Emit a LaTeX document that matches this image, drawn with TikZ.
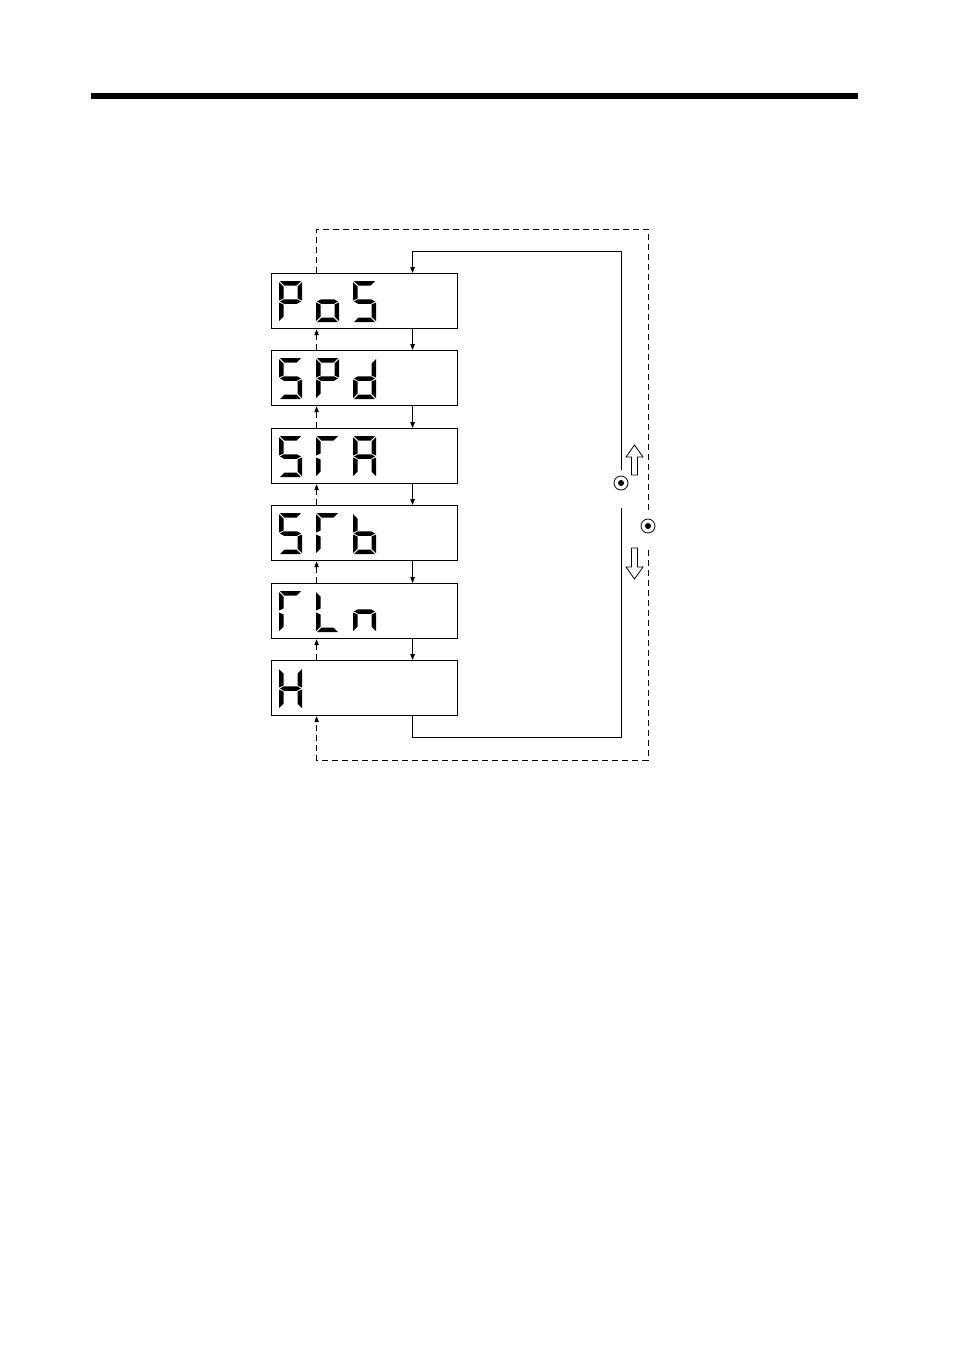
\documentclass[tikz,border=0pt]{standalone}
\usetikzlibrary{arrows.meta}

% segments of one display digit (23 x 41, y downwards)
\newcommand{\sega}{(1,0) -- (22,0) -- (17.5,4.5) -- (5.5,4.5) -- cycle}
\newcommand{\segb}{(23,1) -- (18.5,5.5) -- (18.5,17.5) -- (23,19.5) -- cycle}
\newcommand{\segc}{(23,21.5) -- (18.5,23.5) -- (18.5,35.5) -- (23,40) -- cycle}
\newcommand{\segd}{(1,41) -- (22,41) -- (17.5,36.5) -- (5.5,36.5) -- cycle}
\newcommand{\sege}{(0,21.5) -- (4.5,23.5) -- (4.5,35.5) -- (0,40) -- cycle}
\newcommand{\segf}{(0,1) -- (4.5,5.5) -- (4.5,17.5) -- (0,19.5) -- cycle}
\newcommand{\segg}{(1,20.5) -- (5,18.25) -- (18,18.25) -- (22,20.5) -- (18,22.75) -- (5,22.75) -- cycle}
\newcommand{\segdigit}[2]{%
  \foreach \s in {#2} {\edef\segpath{\csname seg\s\endcsname}\fill[shift={#1}] \segpath;}}

\begin{document}
\begin{tikzpicture}[x=1pt,y=-1pt,
  disp/.style={draw, line width=1.2pt, minimum width=186pt, minimum height=55pt, inner sep=0pt, anchor=north west},
  btn/.style={draw, circle, line width=0.8pt, minimum size=14pt, inner sep=0pt,
    path picture={\fill (path picture bounding box.center) circle (3pt);}},
  loopline/.style={line width=0.9pt},
  fwd/.style={line width=0.9pt, -{Triangle[length=6pt,width=4.5pt]}},
  bwd/.style={line width=0.9pt, dash pattern=on 6pt off 4pt, -{Triangle[length=6pt,width=4.5pt]}},
  hollow/.style={draw, line width=0.8pt, fill=white}]

  \useasboundingbox (0,0) rectangle (954,1350);

  % rule at top of page
  \fill (91,93) rectangle (858,99);

  % ========== Pos ==========
  \begin{scope}[shift={(271,273)}]
    \node[disp] (pos) at (0,0) {};
    \segdigit{(8,8)}{a,b,f,g,e}
    \segdigit{(45,8)}{g,c,d,e}
    \segdigit{(82,8)}{a,f,g,c,d}
  \end{scope}

  % ========== SPd ==========
  \begin{scope}[shift={(271,350)}]
    \node[disp] (spd) at (0,0) {};
    \segdigit{(8,8)}{a,f,g,c,d}
    \segdigit{(45,8)}{a,b,f,g,e}
    \segdigit{(82,8)}{b,c,d,e,g}
  \end{scope}

  % ========== STA ==========
  \begin{scope}[shift={(271,428)}]
    \node[disp] (sta) at (0,0) {};
    \segdigit{(8,8)}{a,f,g,c,d}
    \segdigit{(45,8)}{a,f,e}
    \segdigit{(82,8)}{a,b,c,e,f,g}
  \end{scope}

  % ========== STb ==========
  \begin{scope}[shift={(271,505)}]
    \node[disp] (stb) at (0,0) {};
    \segdigit{(8,8)}{a,f,g,c,d}
    \segdigit{(45,8)}{a,f,e}
    \segdigit{(82,8)}{f,e,g,c,d}
  \end{scope}

  % ========== TLn ==========
  \begin{scope}[shift={(271,583)}]
    \node[disp] (tln) at (0,0) {};
    \segdigit{(8,8)}{a,f,e}
    \segdigit{(45,8)}{f,e,d}
    \segdigit{(82,8)}{e,g,c}
  \end{scope}

  % ========== H ==========
  \begin{scope}[shift={(271,660)}]
    \node[disp] (hh) at (0,0) {};
    \segdigit{(8,8)}{f,e,b,c,g}
  \end{scope}

  % forward steps (solid)
  \draw[fwd] ([xshift=48pt]pos.south) -- ([xshift=48pt]spd.north);
  \draw[fwd] ([xshift=48pt]spd.south) -- ([xshift=48pt]sta.north);
  \draw[fwd] ([xshift=48pt]sta.south) -- ([xshift=48pt]stb.north);
  \draw[fwd] ([xshift=48pt]stb.south) -- ([xshift=48pt]tln.north);
  \draw[fwd] ([xshift=48pt]tln.south) -- ([xshift=48pt]hh.north);

  % backward steps (dashed)
  \draw[bwd] ([xshift=-48pt]spd.north) -- ([xshift=-48pt]pos.south);
  \draw[bwd] ([xshift=-48pt]sta.north) -- ([xshift=-48pt]spd.south);
  \draw[bwd] ([xshift=-48pt]stb.north) -- ([xshift=-48pt]sta.south);
  \draw[bwd] ([xshift=-48pt]tln.north) -- ([xshift=-48pt]stb.south);
  \draw[bwd] ([xshift=-48pt]hh.north) -- ([xshift=-48pt]tln.south);

  % buttons
  \node[btn] (upbtn) at (621,483) {};
  \node[btn] (downbtn) at (648,526) {};

  % solid loop back to Pos
  \coordinate (sbotright) at (621,737);
  \coordinate (stopright) at (621,251);
  \coordinate (sgaplow) at (621,508);
  \coordinate (sgaphigh) at (621,470);
  \draw[loopline] ([xshift=48pt]hh.south) |- (sbotright) -- (sgaplow);
  \draw[fwd] (sgaphigh) -- (stopright) -| ([xshift=48pt]pos.north);

  % dashed loop back to H
  \coordinate (dtopright) at (648,229);
  \coordinate (dbotright) at (648,760);
  \coordinate (dgaphigh) at (648,513);
  \coordinate (dgaplow) at (648,550);
  \draw[loopline, dash pattern=on 6pt off 4pt] ([xshift=-48pt]pos.north) |- (dtopright) -- (dgaphigh);
  \draw[bwd] (dgaplow) -- (dbotright) -| ([xshift=-48pt]hh.south);

  % hollow arrows
  \draw[hollow] (631.5,475) -- (631.5,457) -- (626,457) -- (634.5,445) -- (643,457) -- (637.5,457) -- (637.5,475) -- cycle;
  \draw[hollow] (631.5,548) -- (637.5,548) -- (637.5,567) -- (643,567) -- (634.5,579) -- (626,567) -- (631.5,567) -- cycle;

\end{tikzpicture}
\end{document}
